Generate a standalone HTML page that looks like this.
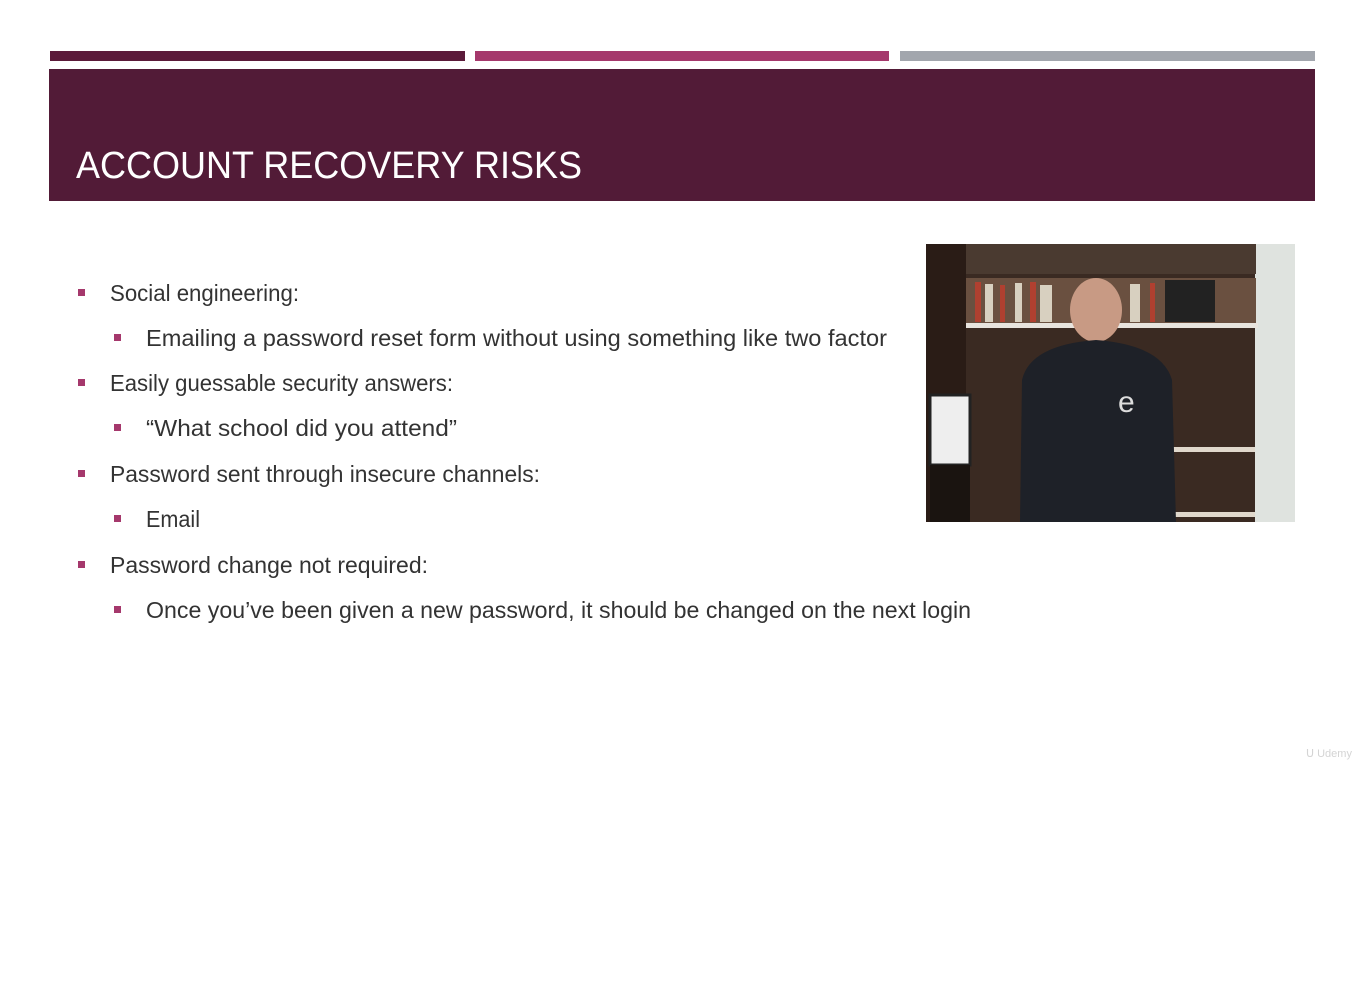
<!DOCTYPE html>
<html><head><meta charset="utf-8"><style>
html,body{margin:0;padding:0;background:#fff;width:1366px;height:1008px;overflow:hidden}
svg{display:block}
text{font-family:"Liberation Sans",sans-serif}
</style></head><body>
<svg width="1366" height="1008" viewBox="0 0 1366 1008">
<rect x="50" y="51" width="415" height="10" fill="#5b1a3a"/>
<rect x="475" y="51" width="414" height="10" fill="#a5386c"/>
<rect x="900" y="51" width="415" height="10" fill="#a2a6ad"/>
<rect x="49" y="69" width="1266" height="132" fill="#521b37"/>
<text x="76" y="178" fill="#fff" font-size="38" textLength="506" lengthAdjust="spacingAndGlyphs">ACCOUNT RECOVERY RISKS</text>

<g fill="#a5386c">
<rect x="78" y="289" width="7" height="7"/>
<rect x="114" y="334" width="7" height="7"/>
<rect x="78" y="379" width="7" height="7"/>
<rect x="114" y="424" width="7" height="7"/>
<rect x="78" y="470" width="7" height="7"/>
<rect x="114" y="515" width="7" height="7"/>
<rect x="78" y="561" width="7" height="7"/>
<rect x="114" y="606" width="7" height="7"/>
</g>
<g fill="#333" font-size="23">
<text x="110" y="301" textLength="189" lengthAdjust="spacingAndGlyphs">Social engineering:</text>
<text x="146" y="346" textLength="741" lengthAdjust="spacingAndGlyphs">Emailing a password reset form without using something like two factor</text>
<text x="110" y="391" textLength="343" lengthAdjust="spacingAndGlyphs">Easily guessable security answers:</text>
<text x="146" y="436" textLength="311" lengthAdjust="spacingAndGlyphs">“What school did you attend”</text>
<text x="110" y="482" textLength="430" lengthAdjust="spacingAndGlyphs">Password sent through insecure channels:</text>
<text x="146" y="527" textLength="54" lengthAdjust="spacingAndGlyphs">Email</text>
<text x="110" y="573" textLength="318" lengthAdjust="spacingAndGlyphs">Password change not required:</text>
<text x="146" y="618" textLength="825" lengthAdjust="spacingAndGlyphs">Once you’ve been given a new password, it should be changed on the next login</text>
</g>

<g>
<rect x="926" y="244" width="369" height="278" fill="#3a2a22"/>
<rect x="926" y="244" width="40" height="278" fill="#2a1c16"/>
<rect x="1255" y="244" width="40" height="278" fill="#dfe3df"/>
<rect x="966" y="244" width="290" height="30" fill="#4a3a30"/>
<rect x="966" y="278" width="290" height="46" fill="#6a5040"/>
<g fill="#b04030"><rect x="975" y="282" width="6" height="40"/><rect x="1000" y="285" width="5" height="37"/><rect x="1030" y="282" width="6" height="40"/><rect x="1150" y="283" width="5" height="39"/></g>
<g fill="#d8d0c0"><rect x="985" y="284" width="8" height="38"/><rect x="1015" y="283" width="7" height="39"/><rect x="1040" y="285" width="12" height="37"/><rect x="1130" y="284" width="10" height="38"/></g>
<rect x="1165" y="280" width="50" height="42" fill="#222"/>
<rect x="966" y="323" width="292" height="5" fill="#e8e4de"/>
<rect x="1160" y="447" width="95" height="5" fill="#e0d8cc"/>
<rect x="1160" y="512" width="95" height="5" fill="#e0d8cc"/>
<rect x="930" y="395" width="40" height="70" fill="#eee" stroke="#222" stroke-width="3"/>
<rect x="930" y="465" width="40" height="57" fill="#1a1410"/>
<ellipse cx="1096" cy="310" rx="26" ry="32" fill="#c89a84"/>
<path d="M1020 522 L1022 380 Q1030 345 1096 340 Q1162 345 1172 380 L1176 522 Z" fill="#1e2128"/>
<text x="1118" y="412" fill="#ddd" font-size="30">e</text>
</g>
<text x="1306" y="757" fill="#d4d4d4" font-size="11">ᑌ Udemy</text>
</svg>
</body></html>
